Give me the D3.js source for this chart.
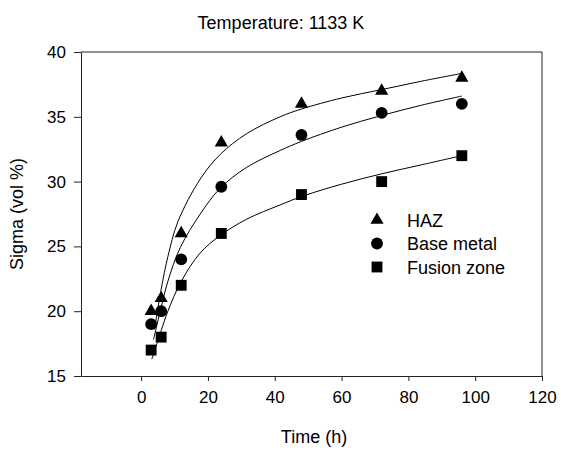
<!DOCTYPE html>
<html lang="en">
<head>
<meta charset="utf-8">
<title>Sigma vs time</title>
<script src="https://cdnjs.cloudflare.com/ajax/libs/d3/7.8.5/d3.min.js"></script>
<style>
	body { margin: 0; background: #fff; }
	text { font-family: "Liberation Sans", Arial, sans-serif; fill: #000; }
	.axis path, .axis line { stroke: #222; }
</style>
</head>
<body>
<div id="chart"></div>
<script>
// measured points (time in h, sigma in vol %)
var times = [3, 6, 12, 24, 48, 72, 96];
var hazValues = [20, 21, 26, 33, 36, 37, 38];
var baseValues = [19, 20, 24, 29.6, 33.6, 35.3, 36];
var fusionValues = [17, 18, 22, 26, 29, 30, 32];

// fitted curves
var hazFitX = [4, 6, 8, 11, 17.7, 23.7, 31.6, 41.6, 48, 60, 72, 84, 96];
var hazFitY = [18.6, 21.7, 24.2, 26.9, 30.2, 32.1, 33.7, 35.0, 35.6, 36.45, 37.1, 37.75, 38.35];
var baseFitX = [3.7, 6, 8, 11.7, 17.7, 23.7, 31.6, 41.6, 48, 60, 72, 84, 96];
var baseFitY = [17.8, 20.3, 22.3, 24.9, 27.5, 29.5, 31.1, 32.4, 33.1, 34.2, 35.1, 35.9, 36.6];
var fusionFitX = [3.2, 6, 8, 12, 17.7, 23.7, 31.6, 41.6, 48.6, 60, 72, 84, 96];
var fusionFitY = [16.3, 18.5, 20.0, 22.3, 24.5, 25.85, 27.1, 28.2, 28.9, 29.8, 30.6, 31.3, 32.0];

var xTicks = [0, 20, 40, 60, 80, 100, 120];
var yTicks = [15, 20, 25, 30, 35, 40];
var seriesNames = ["HAZ", "Base metal", "Fusion zone"];

var width = 561, height = 450;
var svg = d3.select("#chart").append("svg")
	.attr("width", width)
	.attr("height", height);

var x = d3.scaleLinear().domain([-18, 120]).range([81, 542]);
var y = d3.scaleLinear().domain([15, 40]).range([376, 52]);

//frame (top and right)
svg.append("path")
	.attr("d", "M" + x(-18) + "," + y(40) + "H" + x(120) + "V" + y(15))
	.attr("fill", "none")
	.attr("stroke", "#222");

var xAxis = svg.append("g")
	.attr("class", "axis")
	.attr("transform", "translate(0," + y(15) + ")")
	.call(d3.axisBottom(x).tickValues(xTicks).tickSize(5).tickPadding(10).tickSizeOuter(0));
xAxis.selectAll("text").style("font-size", "17px");

var yAxis = svg.append("g")
	.attr("class", "axis")
	.attr("transform", "translate(" + x(-18) + ",0)")
	.call(d3.axisLeft(y).tickValues(yTicks).tickSize(7).tickPadding(8).tickSizeOuter(0));
yAxis.selectAll("text").style("font-size", "17px");

// fitted lines
var line = d3.line()
	.x(function(d) { return x(d[0]); })
	.y(function(d) { return y(d[1]); })
	.curve(d3.curveCatmullRom.alpha(0.5));

var fits = [
	d3.zip(hazFitX, hazFitY),
	d3.zip(baseFitX, baseFitY),
	d3.zip(fusionFitX, fusionFitY)
];
svg.selectAll(".fit")
	.data(fits)
	.enter().append("path")
	.attr("class", "fit")
	.attr("d", line)
	.attr("fill", "none")
	.attr("stroke", "#000")
	.attr("stroke-width", 1);

// markers
var shapes = [
	d3.symbol().type(d3.symbolTriangle).size(75),
	d3.symbol().type(d3.symbolCircle).size(110),
	d3.symbol().type(d3.symbolSquare).size(118)
];
var allValues = [hazValues, baseValues, fusionValues];

allValues.forEach(function(vals, i) {
	svg.append("g").selectAll("path")
		.data(d3.zip(times, vals))
		.enter().append("path")
		.attr("d", shapes[i])
		.attr("transform", function(d) { return "translate(" + x(d[0]) + "," + y(d[1]) + ")"; })
		.attr("fill", "#000");
});

// legend
var legend = svg.append("g").attr("transform", "translate(377,220)");
seriesNames.forEach(function(name, i) {
	legend.append("path")
		.attr("d", shapes[i])
		.attr("transform", "translate(0," + (i * 23.5) + ")")
		.attr("fill", "#000");
	legend.append("text")
		.attr("x", 30)
		.attr("y", i * 23.5 + 6.5)
		.style("font-size", "18px")
		.text(name);
});

// title and axis labels
svg.append("text")
	.attr("x", 281)
	.attr("y", 29)
	.attr("text-anchor", "middle")
	.style("font-size", "18px")
	.text("Temperature: 1133 K");

svg.append("text")
	.attr("x", 314)
	.attr("y", 443)
	.attr("text-anchor", "middle")
	.style("font-size", "18px")
	.text("Time (h)");

svg.append("text")
	.attr("transform", "translate(23,214) rotate(-90)")
	.attr("text-anchor", "middle")
	.style("font-size", "18px")
	.text("Sigma (vol %)");
</script>
</body>
</html>
